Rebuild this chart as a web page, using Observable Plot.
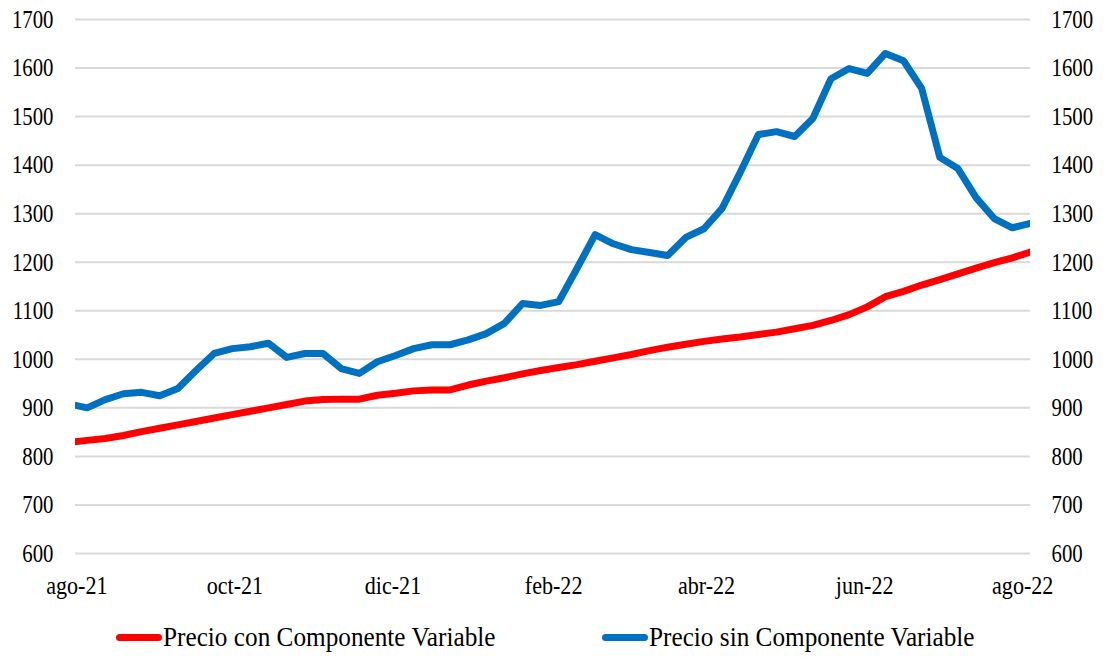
<!DOCTYPE html>
<html>
<head>
<meta charset="utf-8">
<script src="https://cdn.jsdelivr.net/npm/d3@7"></script>
<script src="https://cdn.jsdelivr.net/npm/@observablehq/plot@0.6"></script>
<style>
  body { margin: 0; background: #fff; }
  #wrap { position: relative; width: 1107px; height: 657px; font-family: "Liberation Serif", "Times New Roman", serif; background: #fff; }
  #wrap svg text { font-family: "Liberation Serif", "Times New Roman", serif; }
  .leg { position: absolute; top: 621px; height: 32px; display: flex; align-items: center; font-size: 27px; color: #000; }
  .sw { width: 46px; height: 7px; border-radius: 4px; margin-right: 1px; flex: none; }
  .lt { display: inline-block; transform: scaleX(0.935); transform-origin: left center; white-space: nowrap; }
</style>
</head>
<body>
<div id="wrap"></div>
<script>
// ---- data ----
const seriesNames = ["Precio con Componente Variable", "Precio sin Componente Variable"];
const seriesColors = ["#ff0000", "#0070c0"];
const firstWeek = "2021-07-29";
const precioCon = [
  829, 833, 837, 843, 851, 858, 865, 872, 879, 886,
  893, 900, 907, 914, 917, 918, 918, 926, 930, 935,
  937, 937, 947, 955, 962, 970, 977, 983, 989, 996,
  1003, 1010, 1018, 1025, 1031, 1037, 1042, 1046, 1051, 1056,
  1063, 1070, 1080, 1092, 1108, 1129, 1140, 1153, 1164, 1176,
  1188, 1199, 1209, 1221
];
const precioSin = [
  908, 900, 917, 929, 932, 925, 940, 977, 1012, 1022,
  1026, 1033, 1004, 1012, 1012, 981, 971, 995, 1008, 1022,
  1030, 1030, 1040, 1053, 1074, 1115, 1111, 1119, 1187, 1257,
  1238, 1226, 1220, 1214, 1251, 1269, 1311, 1385, 1463, 1469,
  1459, 1496, 1578, 1599, 1589, 1630, 1615, 1558, 1416, 1393,
  1333, 1290, 1271, 1280
];
const yTicks = [600, 700, 800, 900, 1000, 1100, 1200, 1300, 1400, 1500, 1600, 1700];
const xTickDates = ["2021-08-01", "2021-10-01", "2021-12-01", "2022-02-01", "2022-04-01", "2022-06-01", "2022-08-01"];
const xTickLabels = ["ago-21", "oct-21", "dic-21", "feb-22", "abr-22", "jun-22", "ago-22"];

// ---- build table ----
const start = new Date(firstWeek + "T00:00:00Z");
const weekDates = precioCon.map((_, i) => d3.utcDay.offset(start, 7 * i));
const rows = [];
[precioCon, precioSin].forEach((vals, s) => {
  vals.forEach((v, i) => rows.push({ date: weekDates[i], value: v, serie: seriesNames[s] }));
});
const tickDates = xTickDates.map(d => new Date(d + "T00:00:00Z"));
const labelMap = new Map(tickDates.map((d, i) => [+d, xTickLabels[i]]));

const serif = "Liberation Serif";
const chart = Plot.plot({
  width: 1107,
  height: 605,
  marginLeft: 75,
  marginRight: 77,
  marginTop: 19,
  marginBottom: 52,
  style: { fontFamily: serif, fontSize: "26px", color: "#000", background: "#fff", overflow: "visible" },
  x: { type: "utc", domain: [new Date("2021-07-31T12:00:00Z"), new Date("2022-08-04T00:00:00Z")] },
  y: { domain: [600, 1700] },
  color: { domain: seriesNames, range: seriesColors },
  marks: [
    Plot.gridY(yTicks, { stroke: "#d9d9d9", strokeOpacity: 1, strokeWidth: 2 }),
    Plot.axisY(yTicks, { anchor: "left", tickSize: 0, tickPadding: 22, fontSize: 26, fontFamily: serif, label: null, tickFormat: d => String(d) }),
    Plot.axisY(yTicks, { anchor: "right", tickSize: 0, tickPadding: 21, fontSize: 26, fontFamily: serif, label: null, tickFormat: d => String(d) }),
    Plot.axisX(tickDates, { tickSize: 0, tickPadding: 22, fontSize: 26, fontFamily: serif, label: null, tickFormat: d => labelMap.get(+d) }),
    Plot.line(rows, { x: "date", y: "value", z: "serie", stroke: "serie", strokeWidth: 7, strokeLinejoin: "round", strokeLinecap: "round", clip: true })
  ]
});

// horizontally condense tick labels to match the reference's narrow serif
function squeeze(t, s) {
  const tr = t.getAttribute("transform") || "";
  const x = t.getAttribute("x"), y = t.getAttribute("y");
  let tx = 0, ty = 0;
  if (x != null && x !== "" && !isNaN(+x)) { tx = +x; t.removeAttribute("x"); }
  if (y != null && y !== "" && !isNaN(+y)) { ty = +y; t.removeAttribute("y"); }
  t.setAttribute("transform", `${tr} translate(${tx},${ty}) scale(${s},1)`);
}
chart.querySelectorAll('g[aria-label="y-axis tick label"] text').forEach(t => squeeze(t, 0.8));
chart.querySelectorAll('g[aria-label="x-axis tick label"] text').forEach(t => squeeze(t, 0.85));

const wrap = document.getElementById("wrap");
wrap.appendChild(chart);

// legend below the chart
const legPos = [116, 602];
seriesNames.forEach((name, i) => {
  const item = document.createElement("div");
  item.className = "leg";
  item.style.left = legPos[i] + "px";
  const sw = document.createElement("span");
  sw.className = "sw";
  sw.style.background = seriesColors[i];
  const lt = document.createElement("span");
  lt.className = "lt";
  lt.textContent = name;
  item.appendChild(sw);
  item.appendChild(lt);
  wrap.appendChild(item);
});
</script>
</body>
</html>
